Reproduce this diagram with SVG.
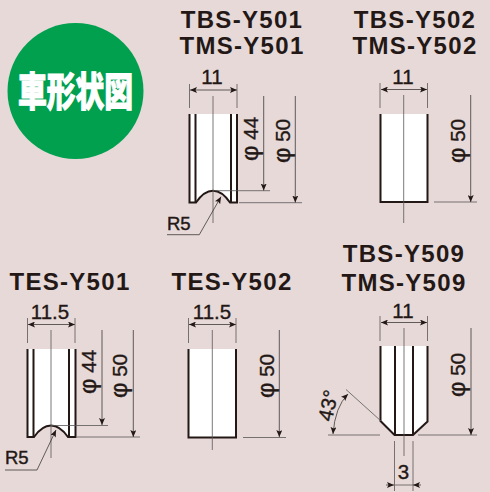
<svg xmlns="http://www.w3.org/2000/svg" width="490" height="492" viewBox="0 0 490 492">
<style>
text{font-family:"Liberation Sans",Arial,"Noto Sans CJK JP",sans-serif;fill:#231815}
.t{font-size:24px;font-weight:700;text-anchor:middle;letter-spacing:1.3px}
.d{font-size:20.500px;text-anchor:middle;stroke:#231815;stroke-width:.35}
.p{font-size:24px}
.r{font-size:18.500px;text-anchor:start;stroke:#231815;stroke-width:.4}
.body{fill:#fff}
.k{fill:none;stroke:#231815;stroke-width:2}
.i{fill:none;stroke:#231815;stroke-width:2}
.c{fill:none;stroke:#595757;stroke-width:.8}
.a{fill:none;stroke:#3e3a39;stroke-width:.8;marker-end:url(#ah)}
.a2{fill:none;stroke:#3e3a39;stroke-width:.8;marker-start:url(#ahs);marker-end:url(#ah)}
</style>
<defs>
<marker id="ah" markerUnits="userSpaceOnUse" markerWidth="8" markerHeight="6" refX="7" refY="3" orient="auto"><path d="M0 0L7 3L0 6L1.500 3Z" fill="#231815"/></marker>
<marker id="ahs" markerUnits="userSpaceOnUse" markerWidth="8" markerHeight="6" refX="0" refY="3" orient="auto"><path d="M7 0L0 3L7 6L5.500 3Z" fill="#231815"/></marker>
</defs>
<rect width="490" height="492" fill="#e6d9d8"/>
<g id="badge">
<circle cx="75.500" cy="91" r="68" fill="#00a04e"/>
<text transform="translate(75.500,106) scale(.8,1.12)" text-anchor="middle" style="font-size:36px;font-weight:900;fill:#fff;stroke:#fff;stroke-width:.9;font-family:'Noto Sans CJK JP',sans-serif">車形状図</text>
</g>
<g id="titles">
<text class="t" x="242" y="28">TBS-Y501</text>
<text class="t" x="242" y="54">TMS-Y501</text>
<text class="t" x="415" y="28">TBS-Y502</text>
<text class="t" x="415" y="54">TMS-Y502</text>
<text class="t" x="70" y="290">TES-Y501</text>
<text class="t" x="232" y="290">TES-Y502</text>
<text class="t" x="404" y="262">TBS-Y509</text>
<text class="t" x="404" y="291">TMS-Y509</text>
</g>
<g id="tbs-y501">
<path class="body" d="M189 114H237V203H230Q222 191 213 191Q204 191 196 203H189Z"/>
<path class="k" d="M189.500 114V202.500H196Q204 190.700 213 190.700Q222 190.700 230 202.500H237V114"/>
<path class="i" d="M195.500 114V202M231 114V202"/>
<text class="d" x="212" y="84">11</text>
<text class="d" transform="translate(258,139) rotate(-90)"><tspan class="p">φ</tspan> 44</text>
<text class="d" transform="translate(290,141) rotate(-90)"><tspan class="p">φ</tspan> 50</text>
<text class="r" x="167" y="230">R5</text>
</g>
<g id="tbs-y502">
<rect class="body" x="380" y="114" width="48" height="88"/>
<path class="k" d="M380.500 114V202H427.500V114"/>
<text class="d" x="403" y="84">11</text>
<text class="d" transform="translate(465,141) rotate(-90)"><tspan class="p">φ</tspan> 50</text>
</g>
<g id="tes-y501">
<path class="body" d="M27 349H75V437H69Q60 425 51 425Q42 425 33 437H27Z"/>
<path class="k" d="M27.500 349V437H34Q42 425.500 51 425.500Q60 425.500 68 437H75.500V349"/>
<path class="i" d="M33.500 349V437M69 349V437"/>
<text class="d" x="50" y="319">11.5</text>
<text class="d" transform="translate(96,372) rotate(-90)"><tspan class="p">φ</tspan> 44</text>
<text class="d" transform="translate(127,376) rotate(-90)"><tspan class="p">φ</tspan> 50</text>
<text class="r" x="5" y="464">R5</text>
</g>
<g id="tes-y502">
<rect class="body" x="188" y="349" width="49" height="88"/>
<path class="k" d="M188.500 349V437.500H236V349"/>
<text class="d" x="212" y="319">11.5</text>
<text class="d" transform="translate(274,376) rotate(-90)"><tspan class="p">φ</tspan> 50</text>
</g>
<g id="tbs-y509">
<path class="body" d="M380 346H428V422L413 435H394L380 421Z"/>
<path class="k" d="M380.500 346V421L394.500 435H413L427.500 421.500V346"/>
<path class="i" d="M395 346V435M413 346V435"/>
<text class="d" x="403" y="318">11</text>
<text class="d" transform="translate(465,375) rotate(-90)"><tspan class="p">φ</tspan> 50</text>
<text class="d" transform="translate(335,407) rotate(-78)">43°</text>
<text class="d" x="403.500" y="479">3</text>
</g>
<g id="connectors">
<path class="a2" d="M190 90H237"/><path class="c" d="M189.500 84V108M237 84V108M213 96V223M213 190.700H270M239 202.700H302"/>
<path class="a" d="M263.700 96V190.500"/><path class="a" d="M295.300 96V202.500"/>
<path class="a" d="M167 234.700H199.300L221 196.700"/>
<path class="a2" d="M381 89.500H427"/><path class="c" d="M380 83V108M427.500 83V108M403.700 95V223M434 202H477"/>
<path class="a" d="M470.700 95V202"/>
<path class="a2" d="M28 324.500H75"/><path class="c" d="M27.500 318V343M75 318V343M51 330V458M51 425.500H108M77 437H140"/>
<path class="a" d="M102 330V425"/><path class="a" d="M133.300 330V437"/>
<path class="a" d="M5 470H37L56 430"/>
<path class="a2" d="M189 324.500H236"/><path class="c" d="M188.500 318V343M236 318V343M212.300 330V450M243 437.500H286"/>
<path class="a" d="M279.300 330V437"/>
<path class="a2" d="M381 322.500H427"/><path class="c" d="M380 316V341M427.500 316V341M404 328V456M328 435H380M418 435H477M394.500 441V491M413 441V491M346 389.500L381 421"/>
<path class="a" d="M471 328V435"/>
<path class="a2" d="M333 434Q335 407 348 394"/>
<path class="a" d="M386 485H394"/><path class="a" d="M421 485H413"/><path class="c" d="M394.500 485H413"/>
</g>
</svg>
